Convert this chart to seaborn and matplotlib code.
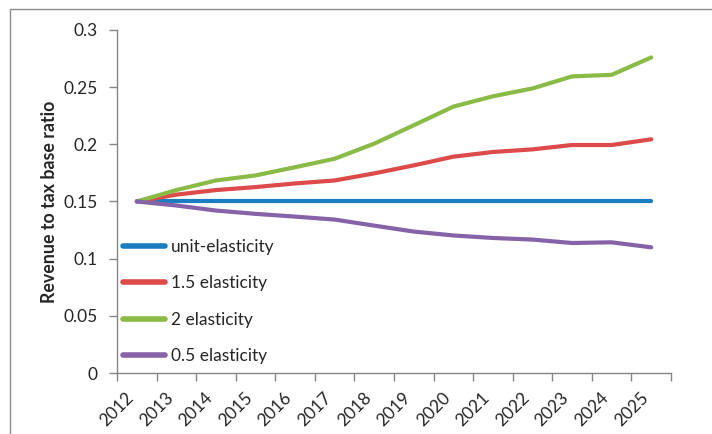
import matplotlib
matplotlib.use("Agg")
import matplotlib.pyplot as plt
import seaborn as sns
import pandas as pd
import numpy as np
from matplotlib.patches import Rectangle

years = [str(y) for y in range(2012, 2026)]
unit_elasticity = [0.150, 0.150, 0.150, 0.150, 0.150, 0.150, 0.150, 0.150, 0.150, 0.150, 0.150, 0.150, 0.150, 0.150]
elasticity_1_5 = [0.150, 0.156, 0.160, 0.1626, 0.1658, 0.1684, 0.1746, 0.1816, 0.1892, 0.1933, 0.1956, 0.1994, 0.1994, 0.2044]
elasticity_2 = [0.150, 0.160, 0.1684, 0.1728, 0.180, 0.1874, 0.2006, 0.2167, 0.233, 0.242, 0.2489, 0.2594, 0.2608, 0.276]
elasticity_0_5 = [0.150, 0.1465, 0.1421, 0.1392, 0.1368, 0.1342, 0.1289, 0.1237, 0.1203, 0.1181, 0.1167, 0.1137, 0.1143, 0.1099]
series_names = ["unit-elasticity", "1.5 elasticity", "2 elasticity", "0.5 elasticity"]
colors = ["#1a7dc1", "#dd4a4a", "#8bbb47", "#8662a8"]
yticks = [0, 0.05, 0.1, 0.15, 0.2, 0.25, 0.3]
ytick_labels = ["0", "0.05", "0.1", "0.15", "0.2", "0.25", "0.3"]

sns.set_theme(style="white")
plt.rcParams["font.family"] = ["Lato", "DejaVu Sans"]

rows = []
for name, vals in zip(series_names, [unit_elasticity, elasticity_1_5, elasticity_2, elasticity_0_5]):
    for i, v in enumerate(vals):
        rows.append({"pos": i, "year": years[i], "value": v, "series": name})
df = pd.DataFrame(rows)

fig = plt.figure(figsize=(7.12, 4.34), dpi=100)
ax = fig.add_axes([117/712, 1 - 373/434, (671-117)/712, (373-30)/434])

sns.lineplot(data=df, x="pos", y="value", hue="series", hue_order=series_names,
             palette=colors, linewidth=3, ax=ax, legend=True)

fs = 12.5
ax.set_xlim(-0.5, len(years) - 0.5)
ax.set_ylim(0, 0.3)
ax.set_yticks(yticks)
ax.set_yticklabels(ytick_labels, fontsize=fs)
ax.set_xticks(np.arange(-0.5, len(years), 1.0))
ax.set_xticklabels([])
ax.set_xticks(np.arange(len(years)), minor=True)
ax.set_xticklabels(years, minor=True, rotation=45, ha="right", fontsize=fs)
ax.tick_params(axis="x", which="major", length=6, width=1, color="#868686", direction="out", bottom=True)
ax.tick_params(axis="x", which="minor", length=0, pad=12)
ax.tick_params(axis="y", length=6, width=1, color="#868686", direction="out", left=True, pad=8)
ax.set_xlabel("")
ax.set_ylabel("Revenue to tax base ratio", fontsize=12.8, fontweight="bold", labelpad=4)
for s in ["top", "right"]:
    ax.spines[s].set_visible(False)
for s in ["left", "bottom"]:
    ax.spines[s].set_color("#868686")
    ax.spines[s].set_linewidth(1)

leg = ax.legend(loc="upper left", bbox_to_anchor=(123/712, 1 - 239/434), bbox_transform=fig.transFigure,
                frameon=False, fontsize=fs, handlelength=2.4, handletextpad=0.35,
                labelspacing=1.17, borderpad=0, borderaxespad=0)
for line in leg.get_lines():
    line.set_linewidth(4)

fig.patches.append(Rectangle((10/712, -0.1), 1.2, 1 - 9/434 + 0.1, transform=fig.transFigure,
                             fill=False, edgecolor="#8c8c8c", linewidth=1))

fig.savefig("out.png", dpi=100)
